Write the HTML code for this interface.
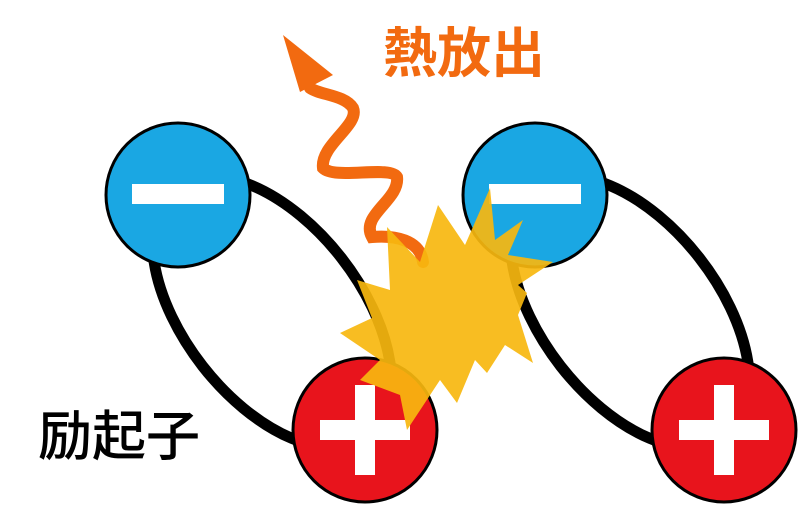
<!DOCTYPE html>
<html><head><meta charset="utf-8"><style>
html,body{margin:0;padding:0;background:#fff;width:800px;height:506px;overflow:hidden}
svg{display:block}
</style></head><body>
<svg width="800" height="506" viewBox="0 0 800 506" xmlns="http://www.w3.org/2000/svg">
<g fill="none" stroke="#000" stroke-width="11">
<ellipse cx="272" cy="312" rx="158" ry="88" transform="rotate(52 272 312)"/>
<ellipse cx="630" cy="312" rx="158" ry="88" transform="rotate(52 630 312)"/>
</g>
<g stroke="#000" stroke-width="3">
<circle cx="178" cy="195" r="72" fill="#1aa7e3"/>
<circle cx="535" cy="195" r="72" fill="#1aa7e3"/>
<circle cx="365" cy="430" r="72" fill="#e8141c"/>
<circle cx="724" cy="430" r="72" fill="#e8141c"/>
</g>
<g fill="#fff">
<rect x="132" y="184" width="92" height="20"/>
<rect x="489" y="184" width="92" height="20"/>
<rect x="320" y="420" width="90" height="20"/>
<rect x="355" y="385" width="20" height="90"/>
<rect x="679" y="420" width="90" height="20"/>
<rect x="714" y="385" width="20" height="90"/>
</g>
<path d="M423,262 C420,240 395,235 372,237 C360,215 400,200 397,177 C390,165 335,180 323,168 C320,145 360,125 353,108 C345,95 320,95 310,88" fill="none" stroke="#f26a10" stroke-width="12" stroke-linecap="round"/>
<polygon points="283,35 333,75 300,92" fill="#f26a10"/>
<polygon points="438,205 465,245 490,188 495,240 523,220 508,255 553,262 518,285 527,293 518,315 533,363 505,345 487,373 475,360 457,403 440,380 407,430 400,395 360,380 380,360 340,333 372,318 357,280 390,290 387,227 420,262" fill="#f7b70f" opacity="0.92"/>
<text x="383" y="72" font-family="'Liberation Sans','Noto Sans CJK JP',sans-serif" font-size="54" font-weight="bold" fill="#f26a10">熱放出</text>
<text x="38" y="455" font-family="'Liberation Sans','Noto Sans CJK JP',sans-serif" font-size="54" font-weight="500" fill="#000">励起子</text>
</svg>
</body></html>
